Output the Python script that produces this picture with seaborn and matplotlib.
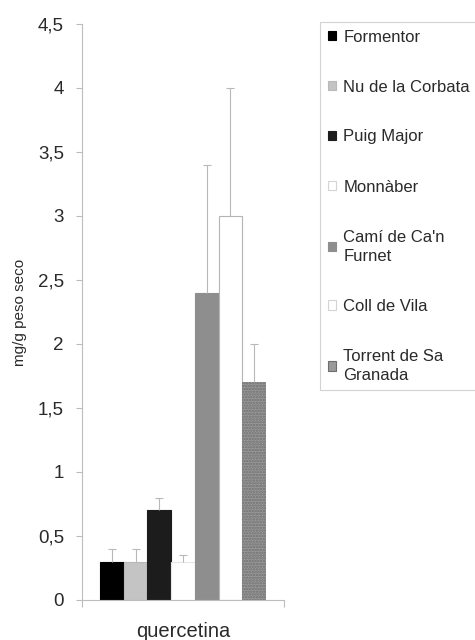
import matplotlib
matplotlib.use("Agg")
import matplotlib.pyplot as plt
import seaborn as sns
import pandas as pd
import numpy as np

# ---- data ----
compound = "quercetina"
sites = ["Formentor", "Nu de la Corbata", "Puig Major", "Monnàber",
         "Camí de Ca'n\nFurnet", "Coll de Vila", "Torrent de Sa\nGranada"]
values = [0.3, 0.3, 0.7, 0.3, 2.4, 3.0, 1.7]
errors = [0.1, 0.1, 0.1, 0.05, 1.0, 1.0, 0.3]
yticks = [0, 0.5, 1, 1.5, 2, 2.5, 3, 3.5, 4, 4.5]
ytick_labels = ["0", "0,5", "1", "1,5", "2", "2,5", "3", "3,5", "4", "4,5"]

fills = ["#000000", "#c4c4c4", "#1c1c1c", "#ffffff", "#8e8e8e", "#ffffff", "#9a9a9a"]
edges = ["#000000", "#b8b8b8", "#1c1c1c", "#e6e6e6", "#8e8e8e", "#b4b4b4", "#6e6e6e"]

sns.set_theme(style="white")
plt.rcParams['font.family'] = ['Liberation Sans', 'DejaVu Sans']
plt.rcParams['hatch.linewidth'] = 1.2
text_col = "#2a2a2a"
axis_col = "#bdbdbd"

df = pd.DataFrame({"compuesto": [compound] * len(sites), "sitio": sites, "valor": values})

fig = plt.figure(figsize=(4.75, 6.4), dpi=100)
ax = fig.add_axes([82 / 475, 1 - 600 / 640, (284 - 82) / 475, (600 - 24) / 640])

sns.barplot(data=df, x="compuesto", y="valor", hue="sitio", hue_order=sites,
            palette=fills, width=0.8, dodge=True, errorbar=None, ax=ax, legend=True,
            saturation=1)

bar_containers = list(ax.containers)
for i, cont in enumerate(bar_containers):
    for p in cont:
        if p is None:
            continue
        p.set_edgecolor(edges[i])
        p.set_linewidth(0.8)
        if i == 6:
            p.set_hatch("......")
            p.set_linewidth(0)
        x = p.get_x() + p.get_width() / 2
        eb = ax.errorbar([x], [values[i]], yerr=[[0], [errors[i]]], fmt="none",
                         ecolor="#b8b8b8", elinewidth=0.8, capsize=3, capthick=0.8, zorder=3)
        # keep only the upper cap (plus-only error bar)
        for cap in eb[1]:
            if np.allclose(cap.get_ydata(), values[i]):
                cap.set_visible(False)

ax.set_xlim(-0.487, 0.487)
ax.set_ylim(0, 4.5)
ax.set_yticks(yticks)
ax.set_yticklabels(ytick_labels)
ax.tick_params(axis="y", which="major", length=4, width=0.8, color=axis_col,
               labelsize=13.5, labelcolor=text_col, pad=9, left=True, direction="out")
ax.set_xticks([0])
ax.set_xticklabels([compound])
ax.tick_params(axis="x", which="major", length=0, labelsize=14.5, labelcolor=text_col, pad=16)
ax.set_xticks([-0.487, 0.487], minor=True)
ax.tick_params(axis="x", which="minor", length=5, width=0.8, color=axis_col, bottom=True)
ax.set_xlabel("")
ax.set_ylabel("mg/g peso seco", fontsize=11, color=text_col, labelpad=8)
for s in ["top", "right"]:
    ax.spines[s].set_visible(False)
for s in ["left", "bottom"]:
    ax.spines[s].set_color(axis_col)
    ax.spines[s].set_linewidth(0.8)

handles, labels = ax.get_legend_handles_labels()
if ax.get_legend() is not None:
    ax.get_legend().remove()
leg = fig.legend(handles, labels, loc="upper left",
                 bbox_to_anchor=(320 / 475, 1 - 22 / 640), borderaxespad=0,
                 fontsize=12, labelspacing=2.1, handlelength=0.5, handleheight=0.5,
                 handletextpad=0.45, borderpad=0.45, fancybox=False, frameon=True)
leg.get_frame().set_edgecolor("#c8c8c8")
leg.get_frame().set_linewidth(0.8)
for i, h in enumerate(leg.legend_handles):
    h.set_facecolor(fills[i])
    h.set_edgecolor(edges[i] if fills[i] != "#ffffff" else "#d4d4d4")
    h.set_linewidth(0.8)
for t in leg.get_texts():
    t.set_color(text_col)
    t.set_linespacing(1.35)

fig.savefig("out.png", dpi=100)
